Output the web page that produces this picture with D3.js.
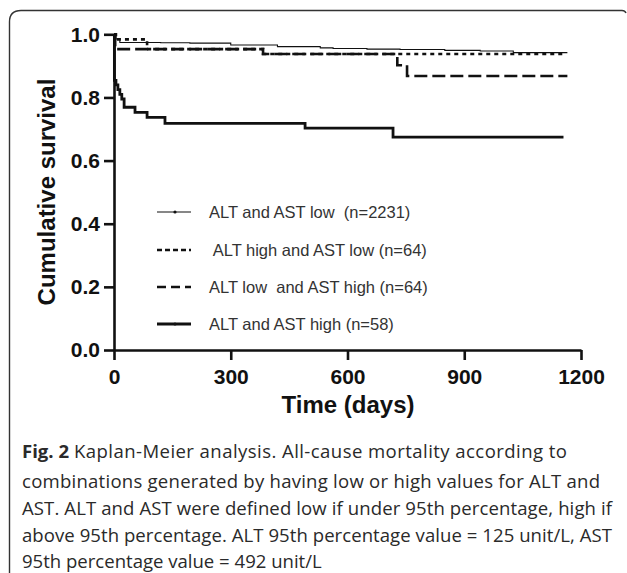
<!DOCTYPE html>
<html>
<head>
<meta charset="utf-8">
<script src="https://cdn.jsdelivr.net/npm/d3@7"></script>
<style>
body { margin: 0; background: #fff; }
svg { display: block; }
text { white-space: pre; }
</style>
</head>
<body>
<svg id="km" width="627" height="573"></svg>
<script>
// Kaplan-Meier steps (time in days, cumulative survival)
var lowLowTime = [0, 5, 15, 60, 120, 195, 300, 420, 530, 563, 650, 735, 850, 941, 1026, 1165];
var lowLowSurv = [1.0, 0.985, 0.974, 0.974, 0.973, 0.972, 0.966, 0.961, 0.957, 0.955, 0.953, 0.952, 0.949, 0.947, 0.942, 0.942];
var highLowTime = [0, 5, 85, 383, 1160];
var highLowSurv = [1.0, 0.984, 0.953, 0.9375, 0.9375];
var lowHighTime = [0, 3, 383, 728, 753, 1165];
var lowHighSurv = [1.0, 0.953, 0.9375, 0.902, 0.868, 0.868];
var highHighTime = [0, 1, 5, 10, 15, 20, 26, 54, 85, 131, 491, 717, 1155];
var highHighSurv = [1.0, 0.854, 0.84, 0.825, 0.81, 0.795, 0.769, 0.753, 0.737, 0.718, 0.703, 0.674, 0.674];

var legendLabels = ["ALT and AST low  (n=2231)", " ALT high and AST low (n=64)", "ALT low  and AST high (n=64)", "ALT and AST high (n=58)"];
var xTicks = [0, 300, 600, 900, 1200];
var yTicks = [0, 0.2, 0.4, 0.6, 0.8, 1.0];

var captionBold = "Fig. 2";
var captionLines = [
  "Kaplan-Meier analysis. All-cause mortality according to",
  "combinations generated by having low or high values for ALT and",
  "AST. ALT and AST were defined low if under 95th percentage, high if",
  "above 95th percentage. ALT 95th percentage value = 125 unit/L, AST",
  "95th percentage value = 492 unit/L"
];

var svg = d3.select("#km");

// frame round the figure
svg.append("path")
  .attr("d", "M9.5,573 L9.5,22 Q9.5,10.5 21,10.5 L622,10.5 Q625,10.5 626,13")
  .attr("fill", "none")
  .attr("stroke", "#333")
  .attr("stroke-width", 1.4);

var x = d3.scaleLinear().domain([0, 1200]).range([114, 581]);
var y = d3.scaleLinear().domain([0, 1]).range([350, 34.3]);

var series = [
  {t: lowLowTime, s: lowLowSurv, w: 1.1, dash: null},
  {t: highLowTime, s: highLowSurv, w: 2.6, dash: "4,4"},
  {t: lowHighTime, s: lowHighSurv, w: 2.6, dash: "13,5"},
  {t: highHighTime, s: highHighSurv, w: 2.8, dash: null}
];

var line = d3.line()
  .x(function(d) { return x(d[0]); })
  .y(function(d) { return y(d[1]); })
  .curve(d3.curveStepAfter);

svg.append("g").selectAll("path")
  .data(series)
  .enter().append("path")
  .attr("d", function(d) { return line(d3.zip(d.t, d.s)); })
  .attr("fill", "none")
  .attr("stroke", "#111")
  .attr("stroke-width", function(d) { return d.w; })
  .attr("stroke-dasharray", function(d) { return d.dash; });

// axes
var yAxis = svg.append("g")
  .attr("transform", "translate(114,0)")
  .call(d3.axisLeft(y).tickValues(yTicks).tickFormat(d3.format(".1f")).tickSize(10).tickSizeOuter(0).tickPadding(4));
var xAxis = svg.append("g")
  .attr("transform", "translate(0,350)")
  .call(d3.axisBottom(x).tickValues(xTicks).tickFormat(d3.format("d")).tickSize(10).tickSizeOuter(0).tickPadding(9));

[yAxis, xAxis].forEach(function(a) {
  a.selectAll("path, line").attr("stroke", "#111").attr("stroke-width", 2.6);
  a.selectAll("text")
    .attr("fill", "#111")
    .style("font-family", "Liberation Sans, Arial, sans-serif")
    .style("font-weight", "bold")
    .style("font-size", "21px");
});

svg.append("text")
  .attr("transform", "translate(55,192) rotate(-90)")
  .attr("text-anchor", "middle")
  .style("font-family", "Liberation Sans, Arial, sans-serif")
  .style("font-weight", "bold")
  .style("font-size", "24px")
  .attr("fill", "#111")
  .text("Cumulative survival");

svg.append("text")
  .attr("x", 348)
  .attr("y", 413)
  .attr("text-anchor", "middle")
  .style("font-family", "Liberation Sans, Arial, sans-serif")
  .style("font-weight", "bold")
  .style("font-size", "24px")
  .attr("fill", "#111")
  .text("Time (days)");

// legend
var legY = [212, 250, 287, 324];
var leg = svg.append("g").selectAll("g")
  .data(series)
  .enter().append("g")
  .attr("transform", function(d, i) { return "translate(157," + legY[i] + ")"; });

leg.append("line")
  .attr("x1", 0).attr("x2", 34)
  .attr("stroke", "#111")
  .attr("stroke-width", function(d) { return d.w; })
  .attr("stroke-dasharray", function(d, i) { return i == 1 ? "5,3" : (i == 2 ? "9,5" : null); });

leg.filter(function(d) { return !d.dash; })
  .append("circle")
  .attr("cx", 18).attr("r", 1.6)
  .attr("fill", "#111");

leg.append("text")
  .attr("x", 52)
  .attr("y", 6)
  .style("font-family", "Liberation Sans, Arial, sans-serif")
  .style("font-size", "16.5px")
  .attr("fill", "#333")
  .text(function(d, i) { return legendLabels[i]; });

// caption
var capFont = "Open Sans, Noto Sans, sans-serif";
var capY = [458, 488, 515, 542, 568];
var capRight = [567, 600, 612, 612, 322];

// size the caption font so the last (unjustified) line spans as in the figure
var probe = svg.append("text").style("font-family", capFont).style("font-size", "20px").text(captionLines[4]);
var capSize = 20 * (capRight[4] - 22) / probe.node().getComputedTextLength();
probe.remove();

var fig = svg.append("text")
  .attr("x", 22).attr("y", capY[0])
  .style("font-family", capFont)
  .style("font-weight", "bold")
  .style("font-size", capSize + "px")
  .attr("fill", "#2a2a2a")
  .text(captionBold);
var figW = fig.node().getComputedTextLength();

svg.append("g").selectAll("text")
  .data(captionLines)
  .enter().append("text")
  .attr("x", function(d, i) { return i == 0 ? 22 + figW + 5 : 22; })
  .attr("y", function(d, i) { return capY[i]; })
  .style("font-family", capFont)
  .style("font-size", capSize + "px")
  .attr("fill", "#2a2a2a")
  .text(function(d) { return d; })
  .each(function(d, i) {
    if (i < 4) {
      var x0 = i == 0 ? 22 + figW + 5 : 22;
      d3.select(this).attr("textLength", capRight[i] - x0).attr("lengthAdjust", "spacing");
    }
  });
</script>
</body>
</html>
